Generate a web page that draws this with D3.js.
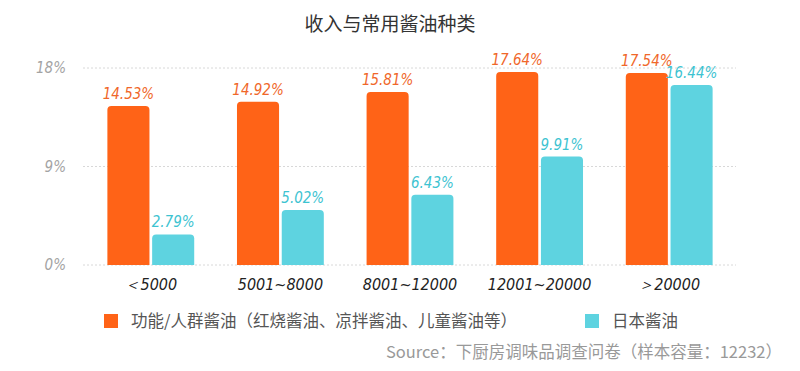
<!DOCTYPE html>
<html>
<head>
<meta charset="utf-8">
<script src="https://cdn.jsdelivr.net/npm/d3@7"></script>
<style>
  body { margin: 0; background: #fff; }
  svg { display: block; }
</style>
</head>
<body>
<div id="chart"></div>
<script>
// data
var categories = ["＜5000", "5001~8000", "8001~12000", "12001~20000", "＞20000"];
var seriesNames = ["功能/人群酱油（红烧酱油、凉拌酱油、儿童酱油等）", "日本酱油"];
var functional = [14.53, 14.92, 15.81, 17.64, 17.54];
var japanese = [2.79, 5.02, 6.43, 9.91, 16.44];
var yTicks = [0, 9, 18];

var width = 800, height = 371;
var colors = ["#FF6317", "#5ED3E0"];
var textColors = ["#F0672A", "#3DC3D1"];
var numFont = "'Liberation Sans Narrow', 'DejaVu Sans Condensed', Roboto, sans-serif";
var cjkFont = "'Noto Sans CJK SC', 'Noto Sans', sans-serif";

var svg = d3.select('#chart').append('svg')
  .attr('width', width)
  .attr('height', height);

svg.append('text')
  .attr('x', 390).attr('y', 31)
  .attr('text-anchor', 'middle')
  .style('font-family', cjkFont)
  .style('font-size', '19px')
  .style('fill', '#333')
  .text('收入与常用酱油种类');

var x = d3.scaleBand()
  .domain(categories)
  .range([86, 734])
  .paddingInner(0.33)
  .paddingOuter(0.165);

var x1 = d3.scaleBand()
  .domain([0, 1])
  .range([0, x.bandwidth()])
  .paddingInner(0.06);

var y = d3.scaleLinear()
  .domain([0, 18])
  .range([265, 68]);

// dotted grid
svg.append('g').selectAll('line')
  .data(yTicks)
  .join('line')
  .attr('x1', 83).attr('x2', 736)
  .attr('y1', function(d) { return y(d); })
  .attr('y2', function(d) { return y(d); })
  .style('stroke', '#d8d8d8')
  .style('stroke-width', 1)
  .style('stroke-dasharray', '2,2');

svg.append('g').selectAll('text')
  .data(yTicks)
  .join('text')
  .attr('x', 66)
  .attr('y', function(d) { return y(d) + 5; })
  .attr('text-anchor', 'end')
  .style('font-family', numFont)
  .style('font-style', 'italic')
  .style('font-size', '15px')
  .style('fill', '#a3a3a3')
  .text(function(d) { return d + '%'; });

var rows = categories.map(function(c, i) {
  return { cat: c, vals: [functional[i], japanese[i]] };
});

// bar with rounded top corners
function barPath(x0, w, yTop, yBase, r) {
  return 'M' + x0 + ',' + yBase +
    'V' + (yTop + r) +
    'Q' + x0 + ',' + yTop + ' ' + (x0 + r) + ',' + yTop +
    'H' + (x0 + w - r) +
    'Q' + (x0 + w) + ',' + yTop + ' ' + (x0 + w) + ',' + (yTop + r) +
    'V' + yBase + 'Z';
}

var groups = svg.append('g').selectAll('g')
  .data(rows)
  .join('g')
  .attr('transform', function(d) { return 'translate(' + x(d.cat) + ',0)'; });

groups.selectAll('path')
  .data(function(d) { return d.vals; })
  .join('path')
  .attr('d', function(d, i) { return barPath(x1(i), x1.bandwidth(), y(d), y(0), 4); })
  .style('fill', function(d, i) { return colors[i]; });

groups.selectAll('text')
  .data(function(d) { return d.vals; })
  .join('text')
  .attr('x', function(d, i) { return x1(i) + x1.bandwidth() / 2; })
  .attr('y', function(d) { return y(d) - 7; })
  .attr('text-anchor', 'middle')
  .style('font-family', numFont)
  .style('font-style', 'italic')
  .style('font-size', '15px')
  .style('fill', function(d, i) { return textColors[i]; })
  .text(function(d) { return d.toFixed(2) + '%'; });

// category labels
svg.append('g').selectAll('text')
  .data(categories)
  .join('text')
  .attr('x', function(d) { return x(d) + x.bandwidth() / 2; })
  .attr('y', 290)
  .attr('text-anchor', 'middle')
  .style('font-family', numFont)
  .style('font-style', 'italic')
  .style('font-size', '16px')
  .style('fill', '#222')
  .text(function(d) { return d; });

// legend
var legendX = [104, 585];
var legend = svg.append('g').selectAll('g')
  .data(seriesNames)
  .join('g')
  .attr('transform', function(d, i) { return 'translate(' + legendX[i] + ',314)'; });

legend.append('rect')
  .attr('width', 14).attr('height', 14)
  .style('fill', function(d, i) { return colors[i]; });

legend.append('text')
  .attr('x', 27).attr('y', 12.5)
  .style('font-family', cjkFont)
  .style('font-size', '16.5px')
  .style('fill', '#555')
  .text(function(d) { return d; });

svg.append('text')
  .attr('x', 782).attr('y', 358)
  .attr('text-anchor', 'end')
  .style('font-family', cjkFont)
  .style('font-size', '16.5px')
  .style('fill', '#999')
  .text('Source：下厨房调味品调查问卷（样本容量：12232）');
</script>
</body>
</html>
